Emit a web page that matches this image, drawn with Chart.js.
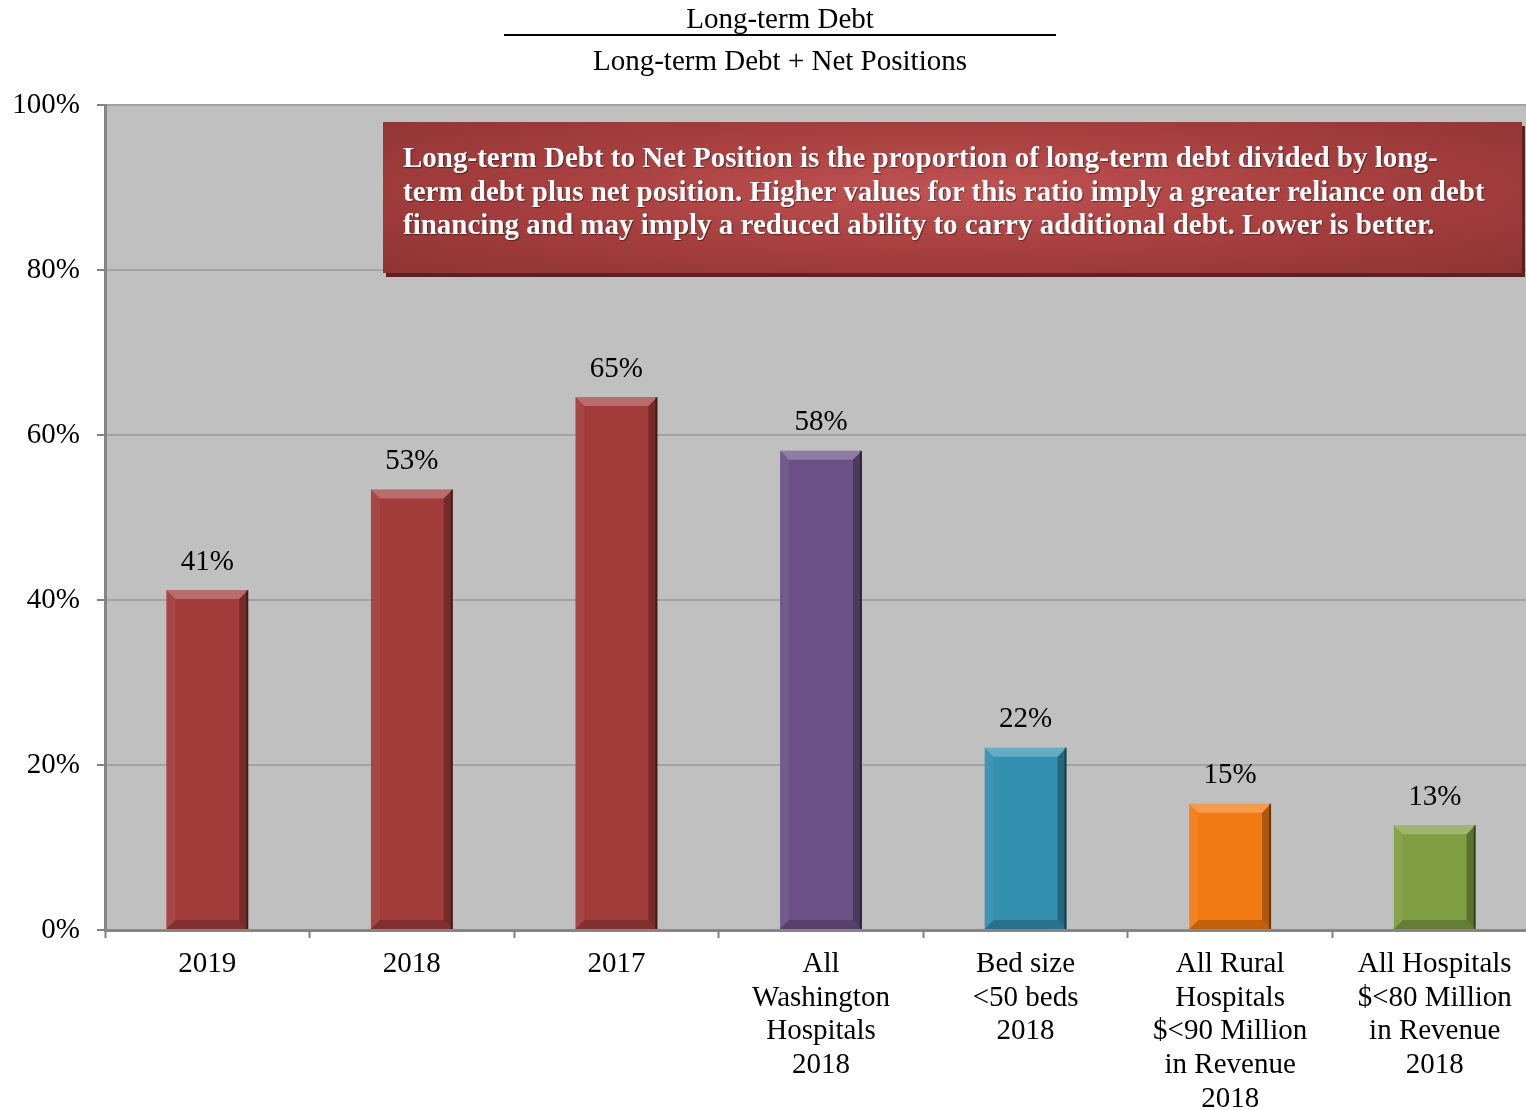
<!DOCTYPE html>
<html lang="en">
<head>
<meta charset="UTF-8">
<title>Long-term Debt to Net Position</title>
<script src="https://cdn.jsdelivr.net/npm/chart.js"></script>
<style>
  body { margin: 0; background: #fff; overflow: hidden; }
  #wrap { position: relative; width: 1526px; height: 1110px; overflow: hidden; font-family: "Liberation Serif", "Times New Roman", serif; }
  #chart { position: absolute; left: 0; top: 0; }
  .frac { position: absolute; left: 454px; width: 652px; text-align: center; font-size: 29px; line-height: 34px; color: #000; }
  #num { top: 1px; }
  #bar { position: absolute; left: 504px; top: 34px; width: 552px; height: 2px; background: #000; }
  #den { top: 43px; }
  #note {
    position: absolute; left: 383px; top: 122px; width: 1139px; height: 151px;
    box-sizing: border-box; padding: 19px 0 0 20px;
    background: radial-gradient(ellipse at 50% 45%, #c05252 0%, #a53e3e 55%, #8e3434 100%);
    box-shadow: 3px 4px 0 #5c2222;
    color: #fff; font-weight: bold; font-size: 29px; line-height: 33.5px; white-space: nowrap;
    text-shadow: 1px 1px 1px rgba(0,0,0,0.45);
  }
</style>
</head>
<body>
<div id="wrap">
  <canvas id="chart" width="1537" height="1110"></canvas>
  <div class="frac" id="num">Long-term Debt</div>
  <div id="bar"></div>
  <div class="frac" id="den">Long-term Debt + Net Positions</div>
  <div id="note">Long-term Debt to Net Position is the proportion of long-term debt divided by long-<br>term debt plus net position. Higher values for this ratio imply a greater reliance on debt<br>financing and may imply a reduced ability to carry additional debt. Lower is better.</div>
</div>

<script>
// data
const categories = [
  ["2019"],
  ["2018"],
  ["2017"],
  ["All", "Washington", "Hospitals", "2018"],
  ["Bed size", "<50 beds", "2018"],
  ["All Rural", "Hospitals", "$<90 Million", "in Revenue", "2018"],
  ["All Hospitals", "$<80 Million", "in Revenue", "2018"]
];
const ratioValues = [41.2, 53.4, 64.6, 58.1, 22.1, 15.3, 12.7];
const valueLabels = ["41%", "53%", "65%", "58%", "22%", "15%", "13%"];
const barColors = ["#a13c3b", "#a13c3b", "#a13c3b", "#6a5085", "#3390ae", "#f27a12", "#7f9e41"];

// gray plot background
const plotBg = {
  id: 'plotBg',
  beforeDraw(chart) {
    const { ctx, chartArea: a } = chart;
    ctx.save();
    ctx.fillStyle = '#c0c0c0';
    ctx.fillRect(a.left, a.top, a.right - a.left, a.bottom - a.top);
    ctx.restore();
  }
};

// bevel look on each bar + value labels
const bevel = {
  id: 'bevel',
  afterDatasetsDraw(chart) {
    const ctx = chart.ctx;
    const meta = chart.getDatasetMeta(0);
    meta.data.forEach((bar, i) => {
      const p = bar.getProps(['x', 'y', 'base', 'width'], true);
      const l = p.x - p.width / 2, r = p.x + p.width / 2, t = p.y, b = p.base;
      const s = 9;
      const poly = (pts, fill) => {
        ctx.beginPath();
        ctx.moveTo(pts[0][0], pts[0][1]);
        pts.slice(1).forEach(q => ctx.lineTo(q[0], q[1]));
        ctx.closePath();
        ctx.fillStyle = fill;
        ctx.fill();
      };
      ctx.save();
      poly([[l, t], [r, t], [r - s, t + s], [l + s, t + s]], 'rgba(255,255,255,0.25)');
      poly([[l, t], [l + s, t + s], [l + s, b - s], [l, b]], 'rgba(255,255,255,0.06)');
      poly([[r, t], [r, b], [r - s, b - s], [r - s, t + s]], 'rgba(0,0,0,0.28)');
      poly([[l, b], [l + s, b - s], [r - s, b - s], [r, b]], 'rgba(0,0,0,0.2)');
      ctx.fillStyle = 'rgba(0,0,0,0.4)';
      ctx.fillRect(r - 2, t, 2, b - t);
      ctx.restore();

      ctx.save();
      ctx.font = '29px "Liberation Serif", serif';
      ctx.fillStyle = '#000';
      ctx.textAlign = 'center';
      ctx.textBaseline = 'middle';
      ctx.fillText(valueLabels[i], p.x, t - 28);
      ctx.restore();
    });
  }
};

new Chart(document.getElementById('chart'), {
  type: 'bar',
  data: {
    labels: categories,
    datasets: [{
      data: ratioValues,
      backgroundColor: barColors,
      borderWidth: 0,
      barPercentage: 0.4,
      categoryPercentage: 1.0
    }]
  },
  options: {
    responsive: false,
    animation: false,
    layout: { padding: { top: 105, left: 0, right: 0, bottom: 0 } },
    plugins: { legend: { display: false }, tooltip: { enabled: false }, title: { display: false } },
    scales: {
      x: {
        afterFit(scale) { scale.height = 180; },
        offset: true,
        grid: { offset: true, drawOnChartArea: false, drawTicks: true, tickLength: 8, tickColor: '#808080', tickWidth: 2 },
        border: { color: '#858585', width: 3 },
        ticks: {
          color: '#000', padding: 9, maxRotation: 0, autoSkip: false,
          font: { family: '"Liberation Serif", serif', size: 29, lineHeight: 1.17 }
        }
      },
      y: {
        min: 0, max: 100,
        afterFit(scale) { scale.width = 105; },
        grid: { color: '#a2a2a2', lineWidth: 2, tickLength: 8, tickColor: '#808080', tickWidth: 2 },
        border: { color: '#858585', width: 3 },
        ticks: {
          stepSize: 20, color: '#000', padding: 17,
          callback: v => v + '%',
          font: { family: '"Liberation Serif", serif', size: 29 }
        }
      }
    }
  },
  plugins: [plotBg, bevel]
});
</script>
</body>
</html>
